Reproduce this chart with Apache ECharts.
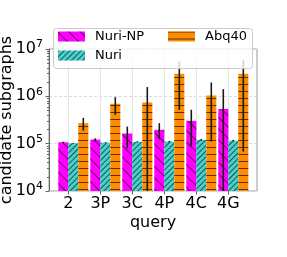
<!DOCTYPE html>
<html><head><meta charset="utf-8">
<script src="https://cdn.jsdelivr.net/npm/echarts@6/dist/echarts.min.js"></script>
<style>html,body{margin:0;padding:0;background:#fff}#c{width:287px;height:257px}</style>
</head><body><div id="c"></div>
<script>
// ---- data ----
const categories = ['2', '3P', '3C', '4P', '4C', '4G'];
const nuriNP = [1.07e5, 1.22e5, 1.64e5, 1.96e5, 3.03e5, 5.4e5];
const nuri   = [1.02e5, 1.05e5, 1.09e5, 1.11e5, 1.2e5, 1.16e5];
const abq40  = [2.71e5, 6.95e5, 7.4e5, 3.0e6, 1.04e6, 3.0e6];
// error bar ranges [low, high]
const nuriNPErr = [[1.03e5, 1.1e5], [1.16e5, 1.3e5], [8.0e4, 2.3e5], [1.25e5, 2.71e5], [8.7e4, 5.2e5], [5e3, 1.42e6]];
const nuriErr   = [[1.0e5, 1.04e5], [1.03e5, 1.07e5], [1.06e5, 1.12e5], [1.08e5, 1.14e5], [1.15e5, 1.25e5], [1.12e5, 1.2e5]];
const abq40Err  = [[1.89e5, 3.5e5], [4.07e5, 9.6e5], [5e3, 1.57e6], [5.2e5, 5.5e6], [1.11e5, 1.96e6], [6.8e4, 5.76e6]];
const yMin = 1e4, yMax = 1e7;
const minorTicks = [2e4,3e4,4e4,5e4,6e4,7e4,8e4,9e4, 2e5,3e5,4e5,5e5,6e5,7e5,8e5,9e5, 2e6,3e6,4e6,5e6,6e6,7e6,8e6,9e6];

const FONT = 'DejaVu Sans';
const GAP = 0.0625;
const colors = {np: '#ff00ff', nuri: '#48d1cc', abq: '#ff8c00'};

function errSeries(name, err, k) {
  return {
    type: 'custom', xAxisIndex: 1, yAxisIndex: 2, z: 5, clip: true, silent: true,
    data: err.map((e, i) => [i, e[0], e[1]]),
    encode: {x: 0, y: [1, 2]},
    renderItem: function (params, api) {
      const i = api.value(0);
      const lo = api.coord([i, api.value(1)]);
      const hi = api.coord([i, api.value(2)]);
      const bw = api.size([1, 0])[0] * (1 - GAP) / 3;
      const x = lo[0] + k * bw;
      return {type: 'line', shape: {x1: x, y1: lo[1], x2: x, y2: hi[1]},
              style: {stroke: '#1a1a1a', lineWidth: 1.6}};
    }
  };
}

const chart = echarts.init(document.getElementById('c'), null, {renderer: 'canvas'});
chart.setOption({
  animation: false,
  grid: [
    {left: 49, top: 49, width: 208, height: 142, outerBoundsMode: 'none', containLabel: false,
     show: true, borderColor: '#999', borderWidth: 1, backgroundColor: 'transparent'},
    {left: 57.3, top: 49, width: 192, height: 142, outerBoundsMode: 'none', containLabel: false},
    {left: 68.3, top: 49, width: 160, height: 142, outerBoundsMode: 'none', containLabel: false}
  ],
  xAxis: [
    {gridIndex: 0, type: 'value', min: 0, max: 1, axisLine: {show: false}, axisTick: {show: false},
     axisLabel: {show: false}, splitLine: {show: false},
     name: 'query', nameLocation: 'middle', nameGap: 24, nameMoveOverlap: false,
     nameTextStyle: {fontFamily: FONT, fontSize: 16, color: '#000'}},
    {gridIndex: 1, type: 'category', data: categories, show: false},
    {gridIndex: 2, type: 'category', data: categories, boundaryGap: false,
     axisLine: {show: false},
     axisTick: {show: true, length: 3.5, lineStyle: {color: '#666'}},
     axisLabel: {fontFamily: FONT, fontSize: 16, color: '#000', margin: 5},
     splitLine: {show: true, lineStyle: {color: '#e4e4e4', width: 1}}}
  ],
  yAxis: [
    {gridIndex: 0, type: 'log', min: yMin, max: yMax, logBase: 10, position: 'left',
     axisLine: {show: true, lineStyle: {color: '#666'}},
     axisTick: {show: true, length: 3.5, lineStyle: {color: '#666'}},
     axisLabel: {margin: 6, align: 'right', fontFamily: FONT, fontSize: 16, color: '#000',
       formatter: v => '10{s|' + Math.round(Math.log10(v)) + '}',
       rich: {s: {fontFamily: FONT, fontSize: 11, color: '#000', padding: [0, 0, 9, 0]}}},
     splitLine: {show: true, lineStyle: {color: '#dcdcdc', type: [3, 2]}},
     name: 'candidate subgraphs', nameLocation: 'middle', nameGap: 34, nameMoveOverlap: false,
     nameTextStyle: {fontFamily: FONT, fontSize: 16, color: '#000'}},
    {gridIndex: 0, type: 'log', min: yMin, max: yMax, logBase: 10, position: 'left', offset: 0,
     axisLine: {show: false}, axisLabel: {show: false}, splitLine: {show: false},
     axisTick: {show: true, length: 2, customValues: minorTicks, lineStyle: {color: '#666'}}},
    {gridIndex: 1, type: 'log', min: yMin, max: yMax, logBase: 10, show: false},
    {gridIndex: 2, type: 'log', min: yMin, max: yMax, logBase: 10, show: false}
  ],
  legend: [
    {data: ['Nuri-NP'], left: 58, top: 30, padding: 0, icon: 'rect', itemWidth: 27, itemHeight: 10,
     selectedMode: false, z: 12, textStyle: {fontFamily: FONT, fontSize: 13, color: '#000', padding: [0, 0, 0, 5]}},
    {data: ['Nuri'], left: 58, top: 49, padding: 0, icon: 'rect', itemWidth: 27, itemHeight: 10,
     selectedMode: false, z: 12, textStyle: {fontFamily: FONT, fontSize: 13, color: '#000', padding: [0, 0, 0, 5]}},
    {data: ['Abq40'], left: 168, top: 30, padding: 0, icon: 'rect', itemWidth: 27, itemHeight: 10,
     selectedMode: false, z: 12, textStyle: {fontFamily: FONT, fontSize: 13, color: '#000', padding: [0, 0, 0, 5]}}
  ],
  graphic: [
    {type: 'rect', left: 53, top: 28, z: 10, silent: true,
     shape: {width: 199, height: 40, r: 3},
     style: {fill: 'rgba(255,255,255,0.8)', stroke: '#cccccc', lineWidth: 1}}
  ],
  series: [
    {name: 'Nuri-NP', type: 'bar', xAxisIndex: 1, yAxisIndex: 2, data: nuriNP, barGap: '0%', barCategoryGap: (GAP * 100) + '%',
     itemStyle: {color: colors.np, decal: {symbol: 'rect', symbolSize: 1, dashArrayX: [1, 0], dashArrayY: [1, 7], rotation: Math.PI / 4, color: 'rgba(0,0,0,0.6)'}}},
    {name: 'Nuri', type: 'bar', xAxisIndex: 1, yAxisIndex: 2, data: nuri, barGap: '0%', barCategoryGap: (GAP * 100) + '%',
     itemStyle: {color: colors.nuri, decal: {symbol: 'rect', symbolSize: 1, dashArrayX: [1, 0], dashArrayY: [1, 3], rotation: -Math.PI / 4, color: 'rgba(0,0,0,0.6)'}}},
    {name: 'Abq40', type: 'bar', xAxisIndex: 1, yAxisIndex: 2, data: abq40, barGap: '0%', barCategoryGap: (GAP * 100) + '%',
     itemStyle: {color: colors.abq, decal: {symbol: 'rect', symbolSize: 1, dashArrayX: [1, 0], dashArrayY: [1, 6], rotation: 0, color: 'rgba(0,0,0,0.65)'}}},
    errSeries('Nuri-NP err', nuriNPErr, -1),
    errSeries('Nuri err', nuriErr, 0),
    errSeries('Abq40 err', abq40Err, 1)
  ]
});
</script></body></html>
